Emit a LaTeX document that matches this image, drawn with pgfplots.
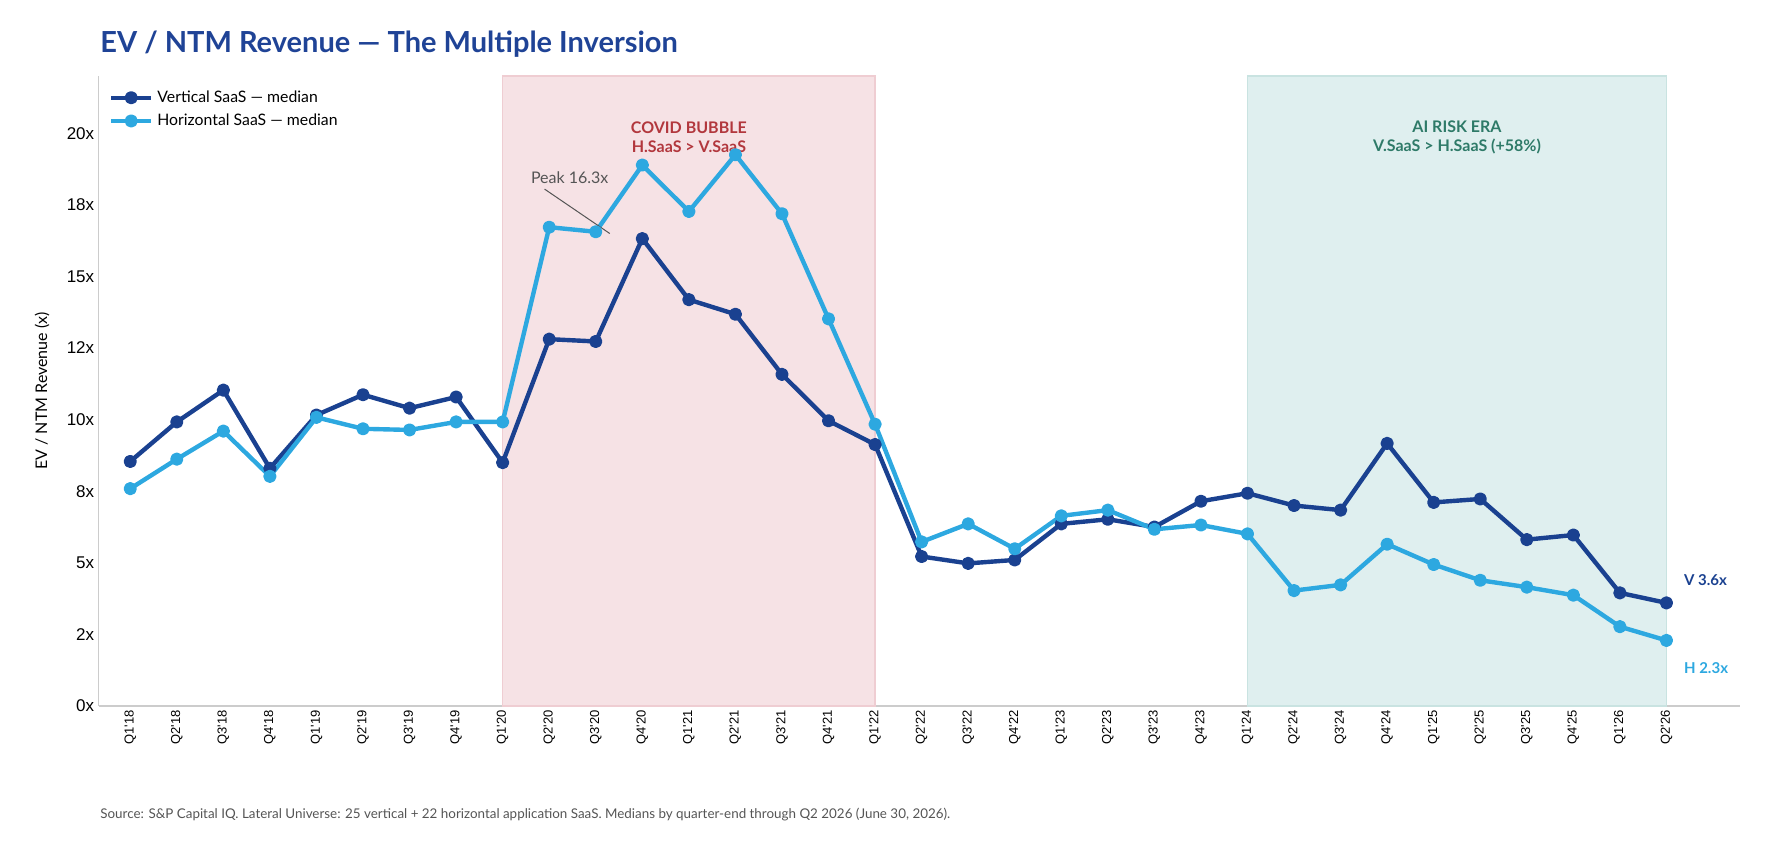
\documentclass[border=0pt]{standalone}
\usepackage{fontspec}
\setmainfont{Lato}
\newfontfamily\tickfont{Liberation Sans}
\usepackage{pgfplots}
\usepackage{pgfplotstable}
\pgfplotsset{compat=1.18}
\definecolor{vblue}{HTML}{1A4190}
\definecolor{hblue}{HTML}{2DA8E0}
\definecolor{titleblue}{HTML}{1F4396}
\definecolor{covidfill}{HTML}{F6E2E5}
\definecolor{covidline}{HTML}{EFCDD2}
\definecolor{aifill}{HTML}{DFEFEF}
\definecolor{ailine}{HTML}{C9E3E1}
\definecolor{covidtext}{HTML}{B2373D}
\definecolor{aitext}{HTML}{2E7A68}
\definecolor{axisgray}{HTML}{CCCCCC}
\definecolor{srcgray}{HTML}{555555}

\pgfplotstableread{
x v
0 8.54
1 9.92
2 11.03
3 8.30
4 10.16
5 10.87
6 10.40
7 10.79
8 8.50
9 12.81
10 12.73
11 16.32
12 14.19
13 13.68
14 11.58
15 9.96
16 9.13
17 5.22
18 4.98
19 5.10
20 6.36
21 6.52
22 6.25
23 7.15
24 7.43
25 7.00
26 6.84
27 9.17
28 7.11
29 7.23
30 5.81
31 5.97
32 3.95
33 3.60
}\vdata

\pgfplotstableread{
x h
0 7.59
1 8.62
2 9.60
3 8.02
4 10.08
5 9.68
6 9.64
7 9.92
8 9.92
9 16.72
10 16.56
11 18.89
12 17.27
13 19.25
14 17.19
15 13.52
16 9.84
17 5.73
18 6.36
19 5.49
20 6.64
21 6.84
22 6.17
23 6.32
24 6.01
25 4.03
26 4.23
27 5.65
28 4.94
29 4.39
30 4.15
31 3.87
32 2.77
33 2.29
}\hdata

\begin{document}
\begin{tikzpicture}
\useasboundingbox (0,0) rectangle (888pt,420pt);
\begin{axis}[
  at={(49.3pt,67pt)}, anchor=south west,
  width=820.7pt, height=315pt, scale only axis,
  xmin=-0.68, xmax=34.58, ymin=0, ymax=22,
  axis x line=bottom, axis y line=left,
  axis line style={axisgray, line width=0.8pt, -},
  major tick length=0pt,
  xtick={0,...,33},
  xticklabels={Q1'18,Q2'18,Q3'18,Q4'18,Q1'19,Q2'19,Q3'19,Q4'19,Q1'20,Q2'20,Q3'20,Q4'20,Q1'21,Q2'21,Q3'21,Q4'21,Q1'22,Q2'22,Q3'22,Q4'22,Q1'23,Q2'23,Q3'23,Q4'23,Q1'24,Q2'24,Q3'24,Q4'24,Q1'25,Q2'25,Q3'25,Q4'25,Q1'26,Q2'26},
  xticklabel style={rotate=90, anchor=east, font=\tickfont\fontsize{6.5}{7}\selectfont, inner sep=2pt},
  ytick={0,2.5,5,7.5,10,12.5,15,17.5,20},
  yticklabels={0x,2x,5x,8x,10x,12x,15x,18x,20x},
  yticklabel style={font=\tickfont\fontsize{8.5}{10}\selectfont, inner sep=2pt},
  /pgf/number format/assume math mode=true,
  clip=false,
  legend style={at={(rel axis cs:0,1)}, anchor=north west, xshift=2pt, yshift=-3pt,
    draw=none, fill=none, font=\fontsize{7.9}{9}\selectfont, row sep=0.3pt,
    legend cell align=left},
  legend image code/.code={\draw[mark repeat=2,mark phase=2,#1] plot coordinates {(0pt,0pt) (10pt,0pt) (20pt,0pt)};},
]
\addplot[fill=covidfill, draw=covidline, line width=0.6pt, forget plot] coordinates {(8,0) (8,22) (16,22) (16,0)} -- cycle;
\addplot[fill=aifill, draw=ailine, line width=0.6pt, forget plot] coordinates {(24,0) (24,22) (33,22) (33,0)} -- cycle;

\addplot[vblue, line width=2.2pt, mark=*, mark size=2.2pt, line join=round] table[x=x, y=v] {\vdata};
\addlegendentry{Vertical SaaS — median}
\addplot[hblue, line width=2.2pt, mark=*, mark size=2.2pt, line join=round] table[x=x, y=h] {\hdata};
\addlegendentry{Horizontal SaaS — median}

\node[align=center, font=\bfseries\fontsize{8}{9.5}\selectfont, text=covidtext] at (axis cs:12,19.85) {COVID BUBBLE\\H.SaaS > V.SaaS};
\node[align=center, font=\bfseries\fontsize{8}{9.5}\selectfont, text=aitext] at (axis cs:28.5,19.85) {AI RISK ERA\\V.SaaS > H.SaaS (+58\%)};
\node[font=\fontsize{8}{9}\selectfont, text=srcgray] at (axis cs:9.44,18.44) {Peak 16.3x};
\draw[srcgray, line width=0.5pt] (axis cs:8.9,18.05) -- (axis cs:10.3,16.5);
\node[anchor=west, font=\bfseries\fontsize{7.5}{9}\selectfont, text=vblue, inner sep=0pt] at (axis cs:33.37,4.40) {V 3.6x};
\node[anchor=west, font=\bfseries\fontsize{7.5}{9}\selectfont, text=hblue, inner sep=0pt] at (axis cs:33.37,1.31) {H 2.3x};
\end{axis}
\node[anchor=base west, font=\bfseries\fontsize{14.5}{17}\selectfont, text=titleblue, inner sep=0pt] at (50pt,393.5pt) {EV / NTM Revenue — The Multiple Inversion};
\node[rotate=90, font=\fontsize{8}{10}\selectfont, inner sep=0pt] at (21pt,224.5pt) {EV / NTM Revenue (x)};
\node[anchor=base west, font=\fontsize{6.7}{8}\selectfont, text=srcgray, inner sep=0pt] at (50pt,11pt) {Source: S\&P Capital IQ. Lateral Universe: 25 vertical + 22 horizontal application SaaS. Medians by quarter-end through Q2 2026 (June 30, 2026).};
\end{tikzpicture}
\end{document}
